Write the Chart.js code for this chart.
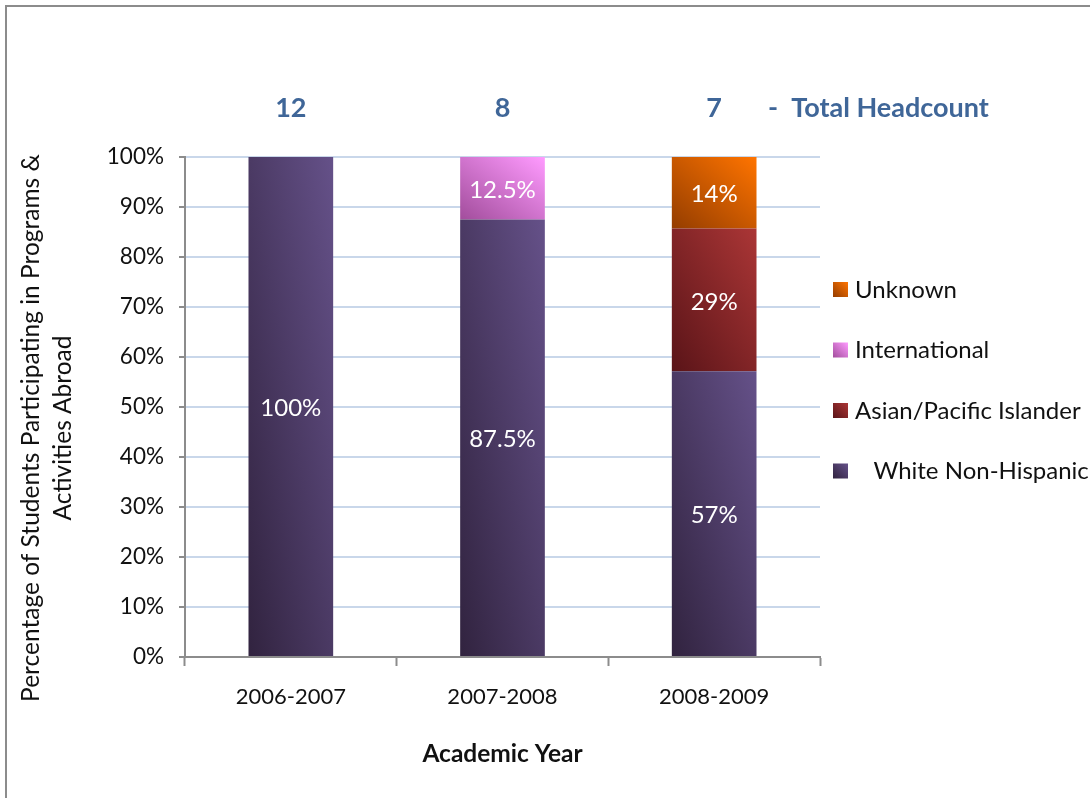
<!DOCTYPE html>
<html>
<head>
<meta charset="utf-8">
<script src="https://cdn.jsdelivr.net/npm/chart.js@4.4.1/dist/chart.umd.min.js"></script>
<style>
    body { margin: 0; background: #fff; }
    #box { position: relative; width: 1090px; height: 798px; }
</style>
</head>
<body>
<div id="box"><canvas id="myChart" width="1090" height="798"></canvas></div>
<script>
"use strict"

//dati
const anni = ["2006-2007", "2007-2008", "2008-2009"];
const totali = ["12", "8", "7"];
const white = [100, 87.5, 57.14];
const asian = [0, 0, 28.57];
const international = [0, 12.5, 0];
const unknown = [0, 0, 14.29];
const etichetteWhite = ["100%", "87.5%", "57%"];
const etichetteAsian = ["", "", "29%"];
const etichetteInternational = ["", "12.5%", ""];
const etichetteUnknown = ["", "", "14%"];
const yTicks = [0, 10, 20, 30, 40, 50, 60, 70, 80, 90, 100];
const titoloY = ["Percentage of Students Participating in Programs &", "Activities Abroad"];

const font = "Lato";

//colori gradiente (scuro, chiaro)
const colori = [
    ["#31233f", "#655189"],
    ["#5a1418", "#ab3636"],
    ["#a24d9c", "#ff9bff"],
    ["#943d00", "#ff7400"]
];

//gradiente diagonale come in excel (angoli in alto a sx e in basso a dx uguali)
function gradienteRett(c, xl, xr, yt, yb, coppia) {
    const w = xr - xl, h = yb - yt;
    const t = (2 * w * h) / (h * h + w * w);
    const g = c.createLinearGradient(xl, yb, xl + t * h, yb - t * w);
    g.addColorStop(0, coppia[0]);
    g.addColorStop(1, coppia[1]);
    return g;
}

function gradiente(ctx) {
    const chart = ctx.chart;
    const ds = ctx.datasetIndex;
    const i = ctx.dataIndex;
    const x = chart.scales.x, y = chart.scales.y;
    if (ds === undefined || !chart.chartArea || !x || !y) return colori[0][1];
    let base = 0;
    for (let k = 0; k < ds; k++) base += chart.data.datasets[k].data[i];
    const v = chart.data.datasets[ds].data[i];
    if (!v) return colori[ds][1];
    const cx = x.getPixelForValue(i);
    const w = (x.width / anni.length) * 0.4;
    return gradienteRett(chart.ctx, cx - w / 2, cx + w / 2,
        y.getPixelForValue(base + v), y.getPixelForValue(base), colori[ds]);
}

const plugin = {
    id: "extra",
    beforeDraw(chart) {
        const c = chart.ctx;
        c.save();
        c.fillStyle = "#fff";
        c.fillRect(0, 0, chart.width, chart.height);
        c.strokeStyle = "#8c8c8c";
        c.lineWidth = 2;
        c.beginPath();
        c.moveTo(6, chart.height + 5);
        c.lineTo(6, 6);
        c.lineTo(chart.width + 5, 6);
        c.stroke();
        c.restore();
    },
    afterDatasetsDraw(chart) {
        const c = chart.ctx;
        c.save();
        c.fillStyle = "#fff";
        c.font = "24px " + font;
        c.textAlign = "center";
        c.textBaseline = "middle";
        chart.data.datasets.forEach(function (ds, d) {
            const meta = chart.getDatasetMeta(d);
            meta.data.forEach(function (el, i) {
                const t = ds.etichette[i];
                if (t) c.fillText(t, el.x, (el.y + el.base) / 2 + 2);
            });
        });
        c.restore();
    },
    afterDraw(chart) {
        const c = chart.ctx;
        const area = chart.chartArea;
        c.save();
        //titolo asse y
        c.fillStyle = "#111";
        c.font = "24.5px " + font;
        c.textAlign = "center";
        c.textBaseline = "middle";
        titoloY.forEach(function (riga, k) {
            c.save();
            c.translate(31 + k * 32, 428);
            c.rotate(-Math.PI / 2);
            c.fillText(riga, 0, 0);
            c.restore();
        });
        //totali
        c.fillStyle = "#3f6698";
        c.font = "bold 27px " + font;
        totali.forEach(function (t, i) {
            c.fillText(t, chart.scales.x.getPixelForValue(i), 108);
        });
        c.textAlign = "left";
        c.fillText("-  Total Headcount", area.right - 52, 108);
        //legenda
        c.font = "24px " + font;
        const ds = chart.data.datasets.slice().reverse();
        const n = ds.length;
        ds.forEach(function (d, k) {
            const yy = 289 + k * 60.5;
            const idx = n - 1 - k;
            c.fillStyle = gradienteRett(c, area.right + 13, area.right + 28, yy - 7, yy + 8, colori[idx]);
            c.fillRect(area.right + 13, yy - 7, 15, 15);
            c.fillStyle = "#111";
            c.fillText(d.label, area.right + 35, yy + 1);
        });
        c.restore();
    }
};

const barre = { borderWidth: 0, categoryPercentage: 1, barPercentage: 0.4, backgroundColor: gradiente };

new Chart(document.getElementById("myChart"), {
    type: "bar",
    data: {
        labels: anni,
        datasets: [
            Object.assign({ label: "   White Non-Hispanic", data: white, etichette: etichetteWhite }, barre),
            Object.assign({ label: "Asian/Pacific Islander", data: asian, etichette: etichetteAsian }, barre),
            Object.assign({ label: "International", data: international, etichette: etichetteInternational }, barre),
            Object.assign({ label: "Unknown", data: unknown, etichette: etichetteUnknown }, barre)
        ]
    },
    options: {
        responsive: false,
        animation: false,
        devicePixelRatio: 1,
        layout: { padding: { top: 157, right: 270, left: 0, bottom: 0 } },
        plugins: {
            colors: { enabled: false },
            legend: { display: false },
            tooltip: { enabled: false }
        },
        scales: {
            x: {
                stacked: true,
                afterFit: function (s) { s.height = 141; },
                grid: {
                    offset: true,
                    drawOnChartArea: false,
                    tickLength: 9,
                    tickColor: "#8c8c8c",
                    tickWidth: 2
                },
                border: { color: "#8c8c8c", width: 2 },
                ticks: { color: "#111", font: { family: font, size: 22 }, padding: 18 },
                title: {
                    display: true,
                    text: "Academic Year",
                    color: "#111",
                    font: { family: font, size: 24.5, weight: "bold" },
                    padding: { top: 0, bottom: 29 }
                }
            },
            y: {
                stacked: true,
                min: 0,
                max: 100,
                afterFit: function (s) { s.width = 185; },
                afterBuildTicks: function (s) {
                    s.ticks = yTicks.map(function (v) { return { value: v }; });
                },
                grid: {
                    color: "#c9d7ea",
                    lineWidth: 2,
                    tickLength: 6,
                    tickColor: "#8c8c8c",
                    tickWidth: 2
                },
                border: { color: "#8c8c8c", width: 2 },
                ticks: {
                    color: "#111",
                    font: { family: font, size: 22.5 },
                    padding: 15,
                    callback: function (v) { return v + "%"; }
                }
            }
        }
    },
    plugins: [plugin]
});
</script>
</body>
</html>
